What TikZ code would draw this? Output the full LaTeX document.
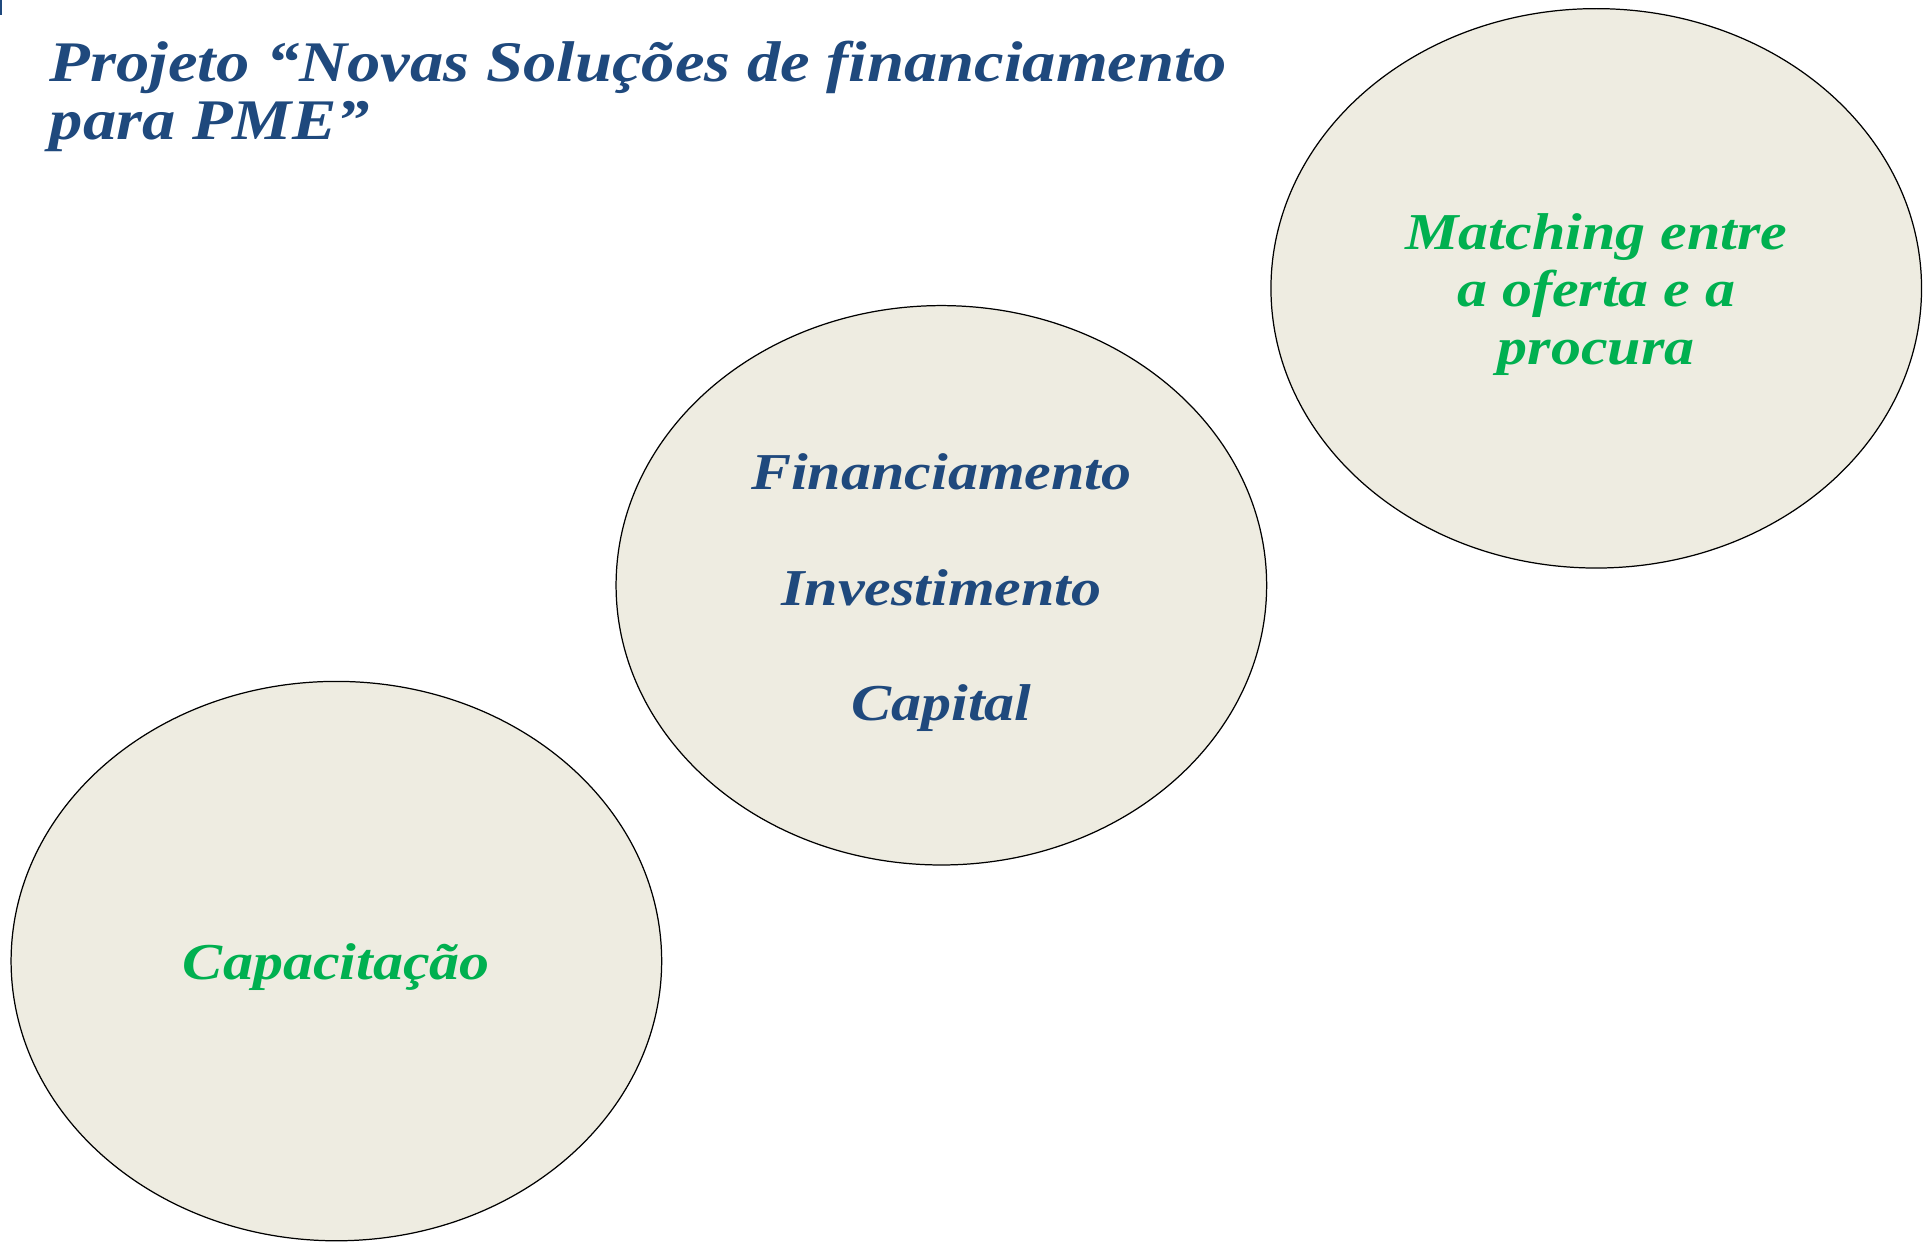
\documentclass[tikz,border=0pt]{standalone}
\usepackage{fontspec}
\usetikzlibrary{shapes.geometric}
\newfontfamily\gfont[FakeStretch=1.16]{Liberation Serif}
\definecolor{tblue}{HTML}{1F497D}
\definecolor{tgreen}{HTML}{00B050}
\definecolor{tan}{HTML}{EEECE1}
\tikzset{
  bubble/.style={ellipse, draw=black, line width=0.5pt, fill=tan, inner sep=0pt,
    minimum width=264pt, minimum height=227pt},
  bodytext/.style={align=center, inner sep=0pt, font=\gfont\bfseries\itshape\fontsize{21}{23.5}\selectfont},
}
\begin{document}
\begin{tikzpicture}[x=0.5pt,y=-0.5pt]
\useasboundingbox[fill=white] (0,0) rectangle (1568,1008);
\draw[tblue, line width=1pt] (1,0) -- (1,12);
\node[anchor=base west, text=tblue, align=left, inner sep=0pt,
  font=\gfont\bfseries\itshape\fontsize{23.3}{23.5}\selectfont] (title) at (40,113)
  {Projeto “Novas Soluções de financiamento\\para PME”};
\node[bubble] (cap) at (273,780) {};
\node[bubble] (fin) at (764,475) {};
\node[bubble] (match) at (1295.5,234) {};
\node[bodytext, text=tgreen] (capt) at ([yshift=-2.5pt]cap.center) {Capacitação};
\node[bodytext, text=tblue] (fint) at ([yshift=-3pt]fin.center)
  {Financiamento\\[23.5pt]Investimento\\[23.5pt]Capital};
\node[bodytext, text=tgreen] (matcht) at ([yshift=-2.5pt]match.center)
  {Matching entre\\a oferta e a\\procura};
\end{tikzpicture}
\end{document}
